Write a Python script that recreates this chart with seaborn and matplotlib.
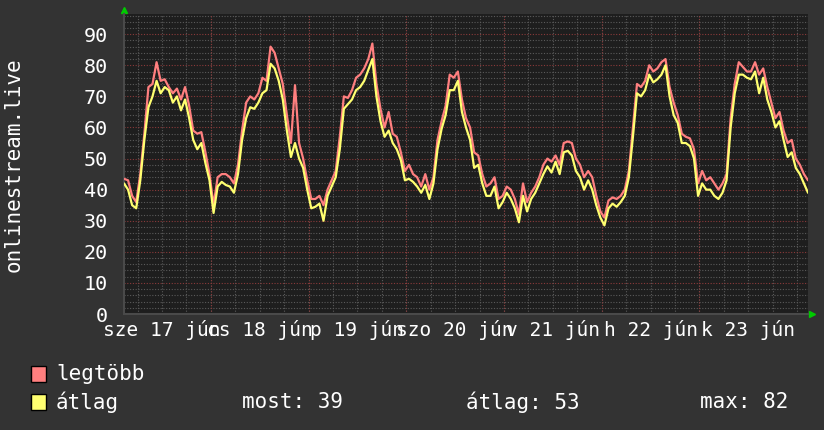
import numpy as np
import matplotlib
matplotlib.use("Agg")
import matplotlib.pyplot as plt
from matplotlib.patches import Rectangle
import seaborn as sns

# hourly samples, starting 17 jún ~02:40
legtobb = [43.5, 43, 38, 36, 45, 58, 73, 74, 81, 75,
           75.5, 73, 71, 72.5, 69, 73, 67, 59, 58, 58.5,
           52, 45, 35, 44, 45, 45, 44, 42, 48, 59,
           68, 70, 69, 71, 76, 75, 86, 84, 79, 74,
           64, 55, 73.6, 55, 50, 43, 37, 37, 38, 35,
           40, 43, 46, 57, 70, 69.5, 72, 76, 77, 79,
           82, 87, 74, 66, 60, 65, 58, 57, 52, 46,
           48, 45, 44, 41, 45, 40, 44, 56, 62, 67,
           77, 76, 78, 69, 63, 60, 52, 51, 45, 41,
           42, 44, 37, 38, 41, 40, 37, 32, 42, 36,
           39, 41, 44, 48, 50, 49, 51, 48, 55, 55.5,
           55, 50, 48, 44, 46, 44, 38, 33, 31, 36.5,
           37.5, 37, 38, 40, 46, 60, 74, 73, 75, 80,
           78, 79, 81, 82, 73, 68, 64, 58, 57, 56.5,
           53, 42, 46, 43, 44, 42, 40, 42, 45, 63,
           74, 81, 79.5, 78, 78, 81, 77, 79, 73, 68,
           63, 65, 59, 55, 56, 50, 48, 45, 43]

atlag = [42, 40, 35, 34, 43, 56, 66.5, 70, 75, 71,
         73, 72, 68, 70, 65.5, 69, 63, 56, 53, 55,
         48.5, 43, 32.5, 41, 42.5, 41.5, 41, 39, 45, 56,
         63, 66.5, 66, 68, 71, 72, 80.5, 79, 75, 69,
         59, 50.5, 55, 50, 47, 40, 34, 34.5, 35.5, 30,
         38, 41, 44, 53, 66, 67.5, 69, 72, 73, 75,
         78.5, 82, 70, 62, 57, 59, 55, 53, 49.5, 43,
         43.5, 42.5, 41, 39, 41.5, 37, 42, 53, 59.5, 64,
         72, 72, 75, 65, 60, 56, 47, 48, 42, 38,
         38, 41, 34, 36, 39, 37, 34, 29.5, 38, 33,
         37, 39, 42, 45, 47.5, 45.5, 49, 45, 52, 52.5,
         51, 46, 44, 40, 43, 40, 35, 31, 28.5, 34,
         35.5, 34.5, 36, 38, 44, 57, 71, 70, 72, 77,
         74.5, 75.5, 77, 80, 70, 64, 61.5, 55, 55, 54,
         50, 38, 42, 40, 40, 38, 37, 39, 43, 60,
         71, 77, 77, 76, 75.5, 78, 71, 76, 69, 65,
         60, 62, 56, 50.5, 52, 47, 45, 42, 39]

day_labels = ["sze 17 jún", "cs 18 jún", "p 19 jún", "szo 20 jún",
              "v 21 jún", "h 22 jún", "k 23 jún"]
first_midnight = 21.35  # hours from start to 18 jún 00:00

BG = '#333333'
CANVAS = '#1e1e1e'
RED = '#ff7f7f'
YELLOW = '#ffff70'

sns.set_style("dark")
plt.rcParams['font.family'] = ['DejaVu Sans Mono']

hours = np.arange(len(atlag))

fig = plt.figure(figsize=(8.24, 4.30), dpi=100)
fig.patch.set_facecolor(BG)
ax = fig.add_axes([124 / 824, 116 / 430, 684 / 824, 300 / 430])
ax.set_facecolor(CANVAS)

sns.lineplot(x=hours, y=legtobb, color=RED, linewidth=1.6, ax=ax, zorder=3)
sns.lineplot(x=hours, y=atlag, color=YELLOW, linewidth=1.6, ax=ax, zorder=4)

ax.set_xlim(0, 168)
ax.set_ylim(0, 96.5)

# grid: minor every 2 units / 6 hours, major every 10 units / midnight
ax.set_yticks(np.arange(0, 91, 10))
ax.set_yticks(np.arange(0, 97, 2), minor=True)
midnights = first_midnight + 24 * np.arange(6)
sixh = np.arange(first_midnight - 18, 168, 6)
ax.set_xticks(sixh, minor=True)
noons = first_midnight - 12 + 24 * np.arange(7)
ax.set_xticks(noons)
ax.set_xticklabels(day_labels)

ax.grid(False)
dot = (0, (1, 1.5))
for v in np.arange(0, 97, 2):
    if v % 10:
        ax.axhline(v, color='#5a5a5a', lw=0.8, ls=dot, zorder=1)
for v in sixh:
    ax.axvline(v, color='#5a5a5a', lw=0.8, ls=dot, zorder=1)
for v in np.arange(0, 91, 10):
    ax.axhline(v, color='#8a3a3a', lw=0.8, ls=dot, zorder=2)
for v in midnights:
    ax.axvline(v, color='#8a3a3a', lw=0.8, ls=dot, zorder=2)

ax.tick_params(axis='both', which='both', length=0, colors='white')
ax.tick_params(axis='y', labelsize=14.5, pad=11.5)
ax.tick_params(axis='x', labelsize=14, pad=4)

for s in ['top', 'right']:
    ax.spines[s].set_visible(False)
for s in ['left', 'bottom']:
    ax.spines[s].set_color('#4a4a4a')
    ax.spines[s].set_linewidth(1.5)

# arrows at axis ends
ax.plot([0], [1.012], marker='^', color='#00cc00', markersize=5,
        transform=ax.transAxes, clip_on=False)
ax.plot([1.006], [0], marker='>', color='#00cc00', markersize=5,
        transform=ax.transAxes, clip_on=False)

fig.text(14 / 824, 1 - 165 / 430, 'onlinestream.live', rotation=90,
         ha='center', va='center', color='white', fontsize=15)

# legend
def box(y_top, color):
    fig.add_artist(Rectangle((31 / 824, 1 - (y_top + 16) / 430), 15 / 824, 16 / 430,
                             transform=fig.transFigure, facecolor=color,
                             edgecolor='black', linewidth=1))

box(366, RED)
box(394, YELLOW)
fs = 15
fig.text(56 / 824, 1 - 374 / 430, 'legtöbb', color='white', fontsize=fs, va='center')
fig.text(56 / 824, 1 - 402 / 430, 'átlag', color='white', fontsize=fs, va='center')
fig.text(242 / 824, 1 - 402 / 430, f'most: {atlag[-1]:.0f}', color='white', fontsize=fs, va='center')
fig.text(466 / 824, 1 - 402 / 430, f'átlag: {np.mean(atlag):.0f}', color='white', fontsize=fs, va='center')
fig.text(700 / 824, 1 - 402 / 430, f'max: {np.max(atlag):.0f}', color='white', fontsize=fs, va='center')

fig.savefig('out.png', dpi=100, facecolor=BG)
